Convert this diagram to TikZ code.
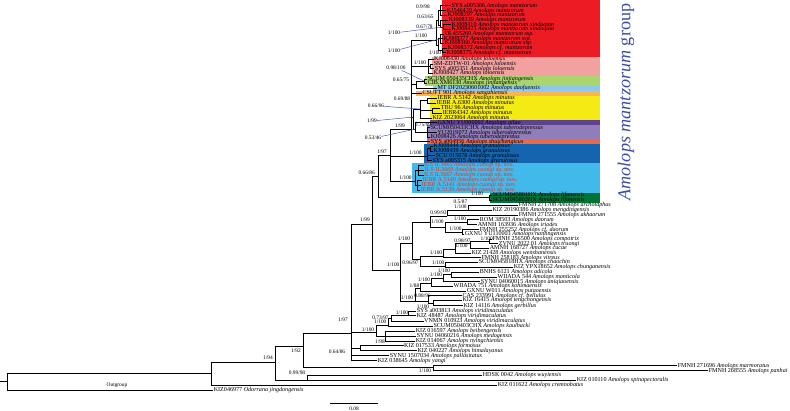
\documentclass[tikz,border=0pt]{standalone}
\usepackage{fontspec}
\setmainfont{Liberation Serif}
\usepackage{xcolor}
\definecolor{mzred}{RGB}{237,28,36}
\definecolor{mzpink}{RGB}{242,160,160}
\definecolor{mzlime}{RGB}{170,212,110}
\definecolor{mzsky}{RGB}{140,200,235}
\definecolor{mzorange}{RGB}{250,180,80}
\definecolor{mzyellow}{RGB}{245,235,20}
\definecolor{mzdpurple}{RGB}{95,65,145}
\definecolor{mzpurple}{RGB}{145,125,185}
\definecolor{mzcoral}{RGB}{235,105,70}
\definecolor{mzblue}{RGB}{20,100,175}
\definecolor{mzcyan}{RGB}{65,185,235}
\definecolor{mzgreen}{RGB}{0,115,55}
\definecolor{novred}{RGB}{220,55,45}
\definecolor{ptrblue}{RGB}{60,80,190}
\definecolor{grpblue}{RGB}{60,75,165}
\newcommand{\tipfont}{\fontsize{5.2}{5.2}\selectfont}
\newcommand{\suppfont}{\fontsize{4.6}{4.6}\selectfont}

\begin{document}
\begin{tikzpicture}[x=0.3mm, y=-0.3mm,
    tip/.style={anchor=west, inner sep=0.5pt, font=\tipfont,
                text height=3.3pt, text depth=0.7pt},
    novtip/.style={tip, text=novred},
    supp/.style={inner sep=0pt, font=\suppfont, text height=3.2pt, text depth=0.9pt},
    br/.style={line width=0.8pt, line cap=rect},
    ptr/.style={line width=0.4pt, ptrblue}
  ]
  \useasboundingbox (0,0) rectangle (790,411);

  % clade shading
  \foreach \col/\xa/\ya/\yb in {mzred/441.7/0/57, mzpink/431.7/57/76,
      mzlime/425/76/85.5, mzsky/433/85.5/91, mzorange/416/91/96,
      mzyellow/430/96/120, mzdpurple/430/120/125, mzpurple/426.7/125/139.3,
      mzcoral/426.7/139.3/144, mzblue/424/144/162.5, mzcyan/412/162.5/193,
      mzgreen/490/193/202.5}
    \fill[fill=\col] (\xa,\ya) rectangle (600,\yb);

  % terminal taxa
  \foreach \n/\x/\y/\id/\name in {
      1/450.7/5.7/SYS a005366/Amolops mantzorum,
      2/446/10.5/KJ546429/Amolops mantzorum,
      3/447/15.3/KJ008297/Amolops mantzorum,
      4/448/20/KJ008339/Amolops mantzorum,
      5/450.7/24.7/KJ008410/Amolops mantzorum xinduqiao,
      6/450.7/29.3/KJ008423/Amolops mantzorum xinduqiao,
      7/444/34/OL455260/Amolops mantzorum ssp.,
      8/442.7/38.7/KJ008377/Amolops mantzorum ssp.,
      9/444/43.3/KJ008360/Amolops mantzorum ssp.,
      10/447/48/KJ008372/Amolops cf. mantzorum,
      11/446/52.7/KJ008375/Amolops cf. mantzorum,
      12/433.3/59.3/KJ008430/Amolops loloensis,
      13/433/64/SM-ZDTW-01/Amolops loloensis,
      14/434/68.7/SYS a005351/Amolops loloensis,
      15/432.7/73.3/KJ008427/Amolops loloensis,
      16/427/79/SCUM 050435CHX/Amolops jinjiangensis,
      17/427/83.3/CIB.XM6130/Amolops jinjiangensis,
      18/436.7/88/MT DF20230601002/Amolops daofuensis,
      19/421.7/93.3/CSUFT 901/Amolops sangzhiensis,
      20/436.7/98.3/IEBR A.5142/Amolops minutus,
      21/436/103/IEBR A.6300/Amolops minutus,
      22/440/108/TBU 96/Amolops minutus,
      23/441.7/113/IEBR4342/Amolops minutus,
      24/431.7/118/KIZ 2023064/Amolops minutus,
      25/436.7/122.7/GXNU YU000001/Amolops ailao,
      26/430/127.7/SCUM050433CHX/Amolops tuberodepressus,
      27/436.7/132.7/YU2019072/Amolops tuberodepressus,
      28/430/137.3/KJ008426/Amolops tuberodepressus,
      29/430/141.7/SYS a004956/Amolops shuichengicus,
      30/432.7/146.3/KJ008444/Amolops granulosus,
      31/432.7/151/KJ008439/Amolops granulosus,
      32/435/155.7/SCU 015678/Amolops granulosus,
      33/431.7/160.7/SYS a005315/Amolops granulosus,
      40/491.7/195.3/SCUM045801HX/Amolops lifanensis,
      41/491.7/200/SCUM045802HX/Amolops lifanensis,
      42/518/205/FMNH 271708/Amolops archotaphus,
      43/491.7/210/KIZ 20190386/Amolops mengdingensis,
      44/518/215/FMNH 271555/Amolops akhaorum,
      45/479/219.8/ROM 38503/Amolops daorum,
      46/477/224.6/AMNH 163936/Amolops iriodes,
      47/479/229.5/FMNH 255252/Amolops cf. daorum,
      48/464/234.3/GXNU YU110003/Amolops nanlingensis,
      49/491.7/239/FMNH 256500/Amolops compotrix,
      50/498/243.7/ZVNU 2022.01/Amolops truongi,
      51/489/248.3/AMNH 168727/Amolops cucae,
      52/470.7/253/KIZ 21428/Amolops wenshanensis,
      53/480.7/257.7/FMNH 258183/Amolops vitreus,
      54/478/262.3/SCUM045818HX/Amolops chaochin,
      55/513/267/KIZ YPX18652/Amolops chunganensis,
      56/479/272/BNHS 6121/Amolops adicola,
      57/496.7/277/WIIADA 544/Amolops monticola,
      58/480/281.7/SYNU 04060015/Amolops aniqiaoensis,
      59/452.7/286.3/WIIADA 751/Amolops kohimaensis,
      60/466/291/GXNU W011/Amolops putaoensis,
      61/461.7/295.7/CAS 233991/Amolops cf. bellulus,
      62/461.7/300.4/KIZ 16415/Amolops tengchongensis,
      63/462.7/305.7/KIZ 14116/Amolops gerbillus,
      64/416/311/SYS a003813/Amolops viridimaculatus,
      65/416/315.8/KIZ 48487/Amolops viridimaculatus,
      66/423.3/321.2/VNMN 010923/Amolops viridimaculatus,
      67/432.7/326/SCUM050403CHX/Amolops kaulbacki,
      68/415/331/KIZ 016597/Amolops beibengensis,
      69/416/336/SYNU 04060216/Amolops medogensis,
      70/415/341/KIZ 014067/Amolops nyingchiensis,
      71/403.3/345.7/KIZ 017533/Amolops formosus,
      72/416.7/350.7/KIZ 040227/Amolops himalayanus,
      73/389/355.7/SYNU 1507034/Amolops pallasitatus,
      74/377/360.7/KIZ 038645/Amolops yangi,
      75/677/365.7/FMNH 271696/Amolops marmoratus,
      76/708/370.5/FMNH 268555/Amolops panhai,
      77/482/375.2/HDSK 0042/Amolops wuyiensis,
      78/576/380/KIZ 010110/Amolops spinapectoralis,
      79/497/385/KIZ 011622/Amolops cremnobatus,
      80/213/390/KIZ046977/Odorrana jingdongensis}
    \node[tip] (t\n) at (\x,\y) {\id\ \textit{\name}};
  \foreach \n/\x/\y/\id in {34/423.3/165.3/ILS IL3665, 35/424/170/ILS IL3669,
      36/423.3/175/ILS IL3667, 37/421.7/180/IEBR A.5140,
      38/420.7/185/IEBR A.5141, 39/420/190/IEBR A.5139}
    \node[novtip] (t\n) at (\x,\y) {\id\ \textit{Amolops cuongi} sp.\ nov.};

  % internal nodes
  \foreach \c/\x/\y in {root/7/381.7, stub/0/381.7, n211/211/373.7,
      n94/275/362.7, n92/303/346.7, nWS/307/380, nMP/433/367.7,
      n97/351/333, n99/372.7/224, g0/378/176, g1/390/155, a1/411.7/129.3,
      nR/436/40, nRa/438/20.5, nR1/440.5/10, nRc/440/25, nRx/443/27,
      nRb/438/45, nRs/440.5/38.7, nRcf/442/50.3,
      nP/428/66, nP2/430.5/66.3, nJD/416/84, nJ/424/81,
      nMA/413.5/117, nM/420/109, nM1/427/100.5, nM2/432/110.5,
      nAT/415.5/129, nT/427/132.5,
      nG/427/156, nG1/430/148.6, nN/415/181, nN1/418/170, nN2/417.5/185,
      nL/489/197.6,
      n100/400.7/270, nUp/412.7/243, nKD/430/222, nK/447/216, nK1/468/210,
      nD/445/227, nD1/467/222.2, nD2/462/232,
      nCC/420.7/259.3, nCV/443/256, nCW/455/249, nCt/470/243,
      nCt1/489.5/241.3, nCC2/445/266,
      nMid/415/301, nAB/420/288, nA3/431/283, nA2/443/278, nA1/451.5/274.5,
      nB2/428/301, nB1/433/303,
      nVK/376.7/332.5, nV3/388.3/325, nV2/391.7/318, nV1/408.3/315.8,
      nV4/385/336, nHF/360/348}
    \coordinate (\c) at (\x,\y);

  % branches
  \draw[br] (stub) -- (root);
  \foreach \p/\c in {root/n211, root/t80, n211/n94, n211/t79,
      n94/n92, n94/nWS, nWS/t77, nWS/t78, n92/n97, n92/nMP,
      nMP/t75, nMP/t76,
      n97/n99, n97/nVK, n97/nHF, n97/t73, n97/t74, nHF/t71, nHF/t72,
      nVK/nV3, nVK/nV4, nV3/nV2, nV3/t67, nV2/nV1, nV2/t66,
      nV1/t64, nV1/t65, nV4/t68, nV4/t69, nV4/t70,
      n99/g0, n99/n100, n100/nUp, n100/nMid,
      nUp/nKD, nUp/nCC, nKD/nK, nKD/nD, nK/nK1, nK/t44, nK1/t42, nK1/t43,
      nD/nD1, nD/nD2, nD1/t45, nD1/t46, nD2/t47, nD2/t48,
      nCC/nCV, nCC/nCC2, nCV/nCW, nCV/t53, nCW/nCt, nCW/t52,
      nCt/nCt1, nCt/t51, nCt1/t49, nCt1/t50, nCC2/t54, nCC2/t55,
      nMid/nAB, nMid/nB2, nAB/nA3, nAB/t60, nA3/nA2, nA3/t59,
      nA2/nA1, nA2/t58, nA1/t56, nA1/t57,
      nB2/t61, nB2/nB1, nB1/t62, nB1/t63,
      g0/g1, g0/nL, nL/t40, nL/t41,
      g1/a1, g1/nG, g1/nN,
      nG/nG1, nG/t32, nG/t33, nG1/t30, nG1/t31,
      nN/nN1, nN/nN2, nN1/t34, nN1/t35, nN1/t36,
      nN2/t37, nN2/t38, nN2/t39,
      a1/nR, a1/nP, a1/nJD, a1/t19, a1/nMA, a1/t29,
      nR/nRa, nR/nRb, nRa/nR1, nRa/nRc,
      nR1/t1, nR1/t2, nR1/t3, nRc/t4, nRc/nRx, nRx/t5, nRx/t6,
      nRb/nRs, nRb/nRcf, nRs/t7, nRs/t8, nRs/t9, nRcf/t10, nRcf/t11,
      nP/t12, nP/nP2, nP/t15, nP2/t13, nP2/t14,
      nJD/nJ, nJD/t18, nJ/t16, nJ/t17,
      nMA/nM, nMA/nAT, nM/nM1, nM/nM2, nM/t24,
      nM1/t20, nM1/t21, nM2/t22, nM2/t23,
      nAT/t25, nAT/nT, nT/t26, nT/t27, nT/t28}
    \draw[br] (\p) |- (\c);

  % support values
  \foreach \x/\y/\ppv/\bsv [count=\i] in {423/7.5/0.9/98, 425.5/17/0.63/65,
      424.5/27/0.67/78, 421/36/1/100, 435/53.5/1/100, 420/63.5/1/100,
      401/80/0.65/75, 402/99.3/0.69/88, 423/125.5/0.75/99, 400/126/1/99,
      382/151.7/1/97, 415.5/153.3/1/100, 366.7/173/0.66/86, 405.5/178/1/100,
      477/194.5/1/100, 365/220/1/99,
      460.5/201.7/0.5/87, 460.5/207/1/100, 438.5/213.3/0.99/93,
      460/219.3/1/100, 437.5/221.7/1/100, 455.5/229.3/1/100,
      486.7/238.7/1/100, 462.5/240.7/0.98/97, 461.5/246/1/100,
      404/239.3/1/100, 436/253.3/1/100, 438.3/263.3/1/100,
      410.5/263/0.96/97, 393.3/265/1/100,
      444/270.7/1/100, 436/275/1/100, 424/280.5/1/100, 414.5/285.7/1/88,
      422.5/295.7/0.88/96, 407/298.3/1/100, 423/306.7/1/100,
      402/312.7/1/100, 380.5/318/0.73/97, 380.3/322/1/100, 368/330/1/100,
      380/341.7/1/98, 343/320/1/97, 337/352/0.64/86, 296/351/1/92,
      268/358.3/1/94, 297/373/0.99/98, 425/371.5/1/100}
    \node[supp] (s\i) at (\x,\y) {\ppv/\bsv};

  % pointed support values
  \node[supp] (pt1) at (394,33) {1/100};
  \node[supp] (pt2) at (394,51) {1/100};
  \node[supp] (pt3) at (396,67.7) {0.98/100};
  \node[supp] (pt4) at (376,105.7) {0.66/96};
  \node[supp] (pt5) at (372,121) {1/99};
  \node[supp] (pt6) at (373,138.3) {0.53/46};
  \foreach \a/\b in {pt1/nRx, pt2/nRs, pt3/nJ, pt4/nM, pt5/nMA, pt6/nAT}
    \draw[ptr] (\a) -- (\b);

  % group label, outgroup, scale
  \node[rotate=90, text=grpblue, font=\fontsize{15.5}{15.5}\selectfont] (grp)
    at (626,102) {\textit{Amolops mantzorum} group};
  \node[supp] (outg) at (117,385.5) {Outgroup};
  \coordinate (sbl) at (330,403);
  \coordinate (sbr) at (378,403);
  \draw[br] (sbl) -- (sbr);
  \node[supp] (sbt) at (354,409) {0.08};
\end{tikzpicture}
\end{document}
